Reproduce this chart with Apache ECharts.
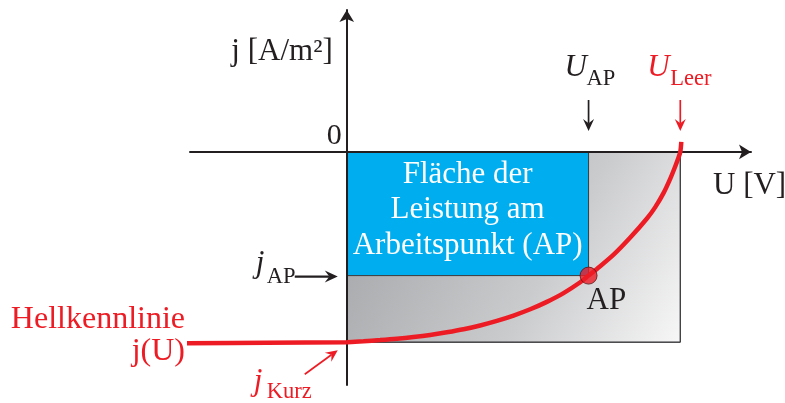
<!DOCTYPE html>
<html>
<head>
<meta charset="utf-8">
<script src="https://cdn.jsdelivr.net/npm/echarts@6/dist/echarts.min.js"></script>
<style>
  html, body { margin: 0; padding: 0; background: #ffffff; }
  #chart { width: 785px; height: 403px; }
</style>
</head>
<body>
<div id="chart"></div>
<script>
// Hellkennlinie einer Solarzelle – schematische Darstellung ohne Skalenwerte

// Kennwerte (willkürliche Einheiten)
const U_LEER = 10;      // Leerlaufspannung
const J_KURZ = -10;     // Kurzschlussstromdichte
const U_AP = 7.25;      // Spannung am Arbeitspunkt
const J_AP = -6.5;      // Stromdichte am Arbeitspunkt

// Hellkennlinie j(U)
const curveU = [-4.8, -2.4, 0, 0.5, 1, 1.5, 2, 2.5, 3, 3.5, 4, 4.5, 5, 5.5, 6, 6.5, 7, 7.25, 7.5, 8, 8.5, 9, 9.25, 9.5, 9.7, 9.85, 9.95, 10, 10.03];
const curveJ = [-10.05, -10.03, -10, -9.95, -9.89, -9.82, -9.73, -9.62, -9.48, -9.32, -9.12, -8.88, -8.6, -8.27, -7.88, -7.42, -6.85, -6.5, -6.15, -5.4, -4.5, -3.5, -2.9, -2.15, -1.4, -0.75, -0.28, 0, 0.53];

// Achsenbereiche
const uRange = [-4.7, 12.12];
const jRange = [-12.25, 7.46];

// Beschriftungen
const yAxisTitle = 'j [A/m²]';
const xAxisTitle = 'U [V]';
const originLabel = '0';
const areaLines = ['Fläche der', 'Leistung am', 'Arbeitspunkt (AP)'];
const curveTitle = ['Hellkennlinie', 'j(U)'];

const INK = '#231f20';
const RED = '#ed1c24';
const BLUE = '#00aeef';
const SERIF = '"Liberation Serif", "Times New Roman", serif';

const chart = echarts.init(document.getElementById('chart'), null, { renderer: 'canvas' });

const axisCommon = {
  type: 'value',
  axisLine: {
    show: true,
    onZero: true,
    symbol: ['none', 'arrow'],
    symbolSize: [11, 12],
    lineStyle: { color: INK, width: 2 }
  },
  axisTick: { show: false },
  axisLabel: { show: false },
  splitLine: { show: false },
  z: 10
};

const curveData = curveU.map((u, i) => [u, curveJ[i]]);

// Rechtecke: [U0, j0, U1, j1]
const rects = [
  [0, 0, U_LEER, J_KURZ],
  [0, 0, U_AP, J_AP]
];

const grayFill = new echarts.graphic.LinearGradient(0, 0, 1, 1, [
  { offset: 0, color: '#a0a1a4' },
  { offset: 0.6, color: '#cacbcd' },
  { offset: 1, color: '#f7f7f7' }
]);

chart.setOption({
  animation: false,
  backgroundColor: '#ffffff',
  grid: { left: 190, right: 34, top: 10, bottom: 18, containLabel: false },
  xAxis: Object.assign({}, axisCommon, { min: uRange[0], max: uRange[1] }),
  yAxis: Object.assign({}, axisCommon, { min: jRange[0], max: jRange[1] }),
  series: [
    {
      type: 'custom',
      z: 1,
      data: rects,
      renderItem: function (params, api) {
        const p1 = api.coord([api.value(0), api.value(1)]);
        const p2 = api.coord([api.value(2), api.value(3)]);
        return {
          type: 'rect',
          shape: {
            x: Math.min(p1[0], p2[0]),
            y: Math.min(p1[1], p2[1]),
            width: Math.abs(p2[0] - p1[0]),
            height: Math.abs(p2[1] - p1[1])
          },
          style: {
            fill: params.dataIndex === 0 ? grayFill : BLUE,
            stroke: '#3b3b3d',
            lineWidth: 1
          }
        };
      }
    },
    {
      type: 'line',
      data: curveData,
      smooth: 0.3,
      symbol: 'none',
      z: 20,
      lineStyle: { color: RED, width: 4.5, cap: 'butt' }
    },
    {
      type: 'scatter',
      data: [[U_AP, J_AP]],
      symbol: 'circle',
      symbolSize: 17,
      z: 21,
      itemStyle: { color: RED, borderColor: '#5c1214', borderWidth: 1 }
    }
  ]
});

const px = (u, j) => chart.convertToPixel({ gridIndex: 0 }, [u, j]);

function txt(x, base, text, size, opt) {
  opt = opt || {};
  return {
    type: 'text',
    x: x,
    y: base - 0.34 * size,
    z: 100,
    style: {
      text: text,
      fontFamily: SERIF,
      fontSize: size,
      fontStyle: opt.italic ? 'italic' : 'normal',
      fill: opt.color || INK,
      align: opt.align || 'left',
      verticalAlign: 'middle'
    }
  };
}

// Pfeil von (x1,y1) nach (x2,y2) mit gefüllter Spitze
function arrow(x1, y1, x2, y2, color, width, len, half) {
  len = len || 12; half = half || 5.5;
  const notch = len * 0.65;
  const ang = Math.atan2(y2 - y1, x2 - x1);
  const c = Math.cos(ang), s = Math.sin(ang);
  const bx = x2 - len * c, by = y2 - len * s;
  const nx = x2 - notch * c, ny = y2 - notch * s;
  return [
    {
      type: 'line', z: 100,
      shape: { x1: x1, y1: y1, x2: nx, y2: ny },
      style: { stroke: color, lineWidth: width }
    },
    {
      type: 'polygon', z: 100,
      shape: { points: [[x2, y2], [bx - half * s, by + half * c], [nx, ny], [bx + half * s, by - half * c]] },
      style: { fill: color }
    }
  ];
}

const o = px(0, 0);
const pAP = px(U_AP, J_AP);
const pLeer = px(U_LEER, 0);
const pKurz = px(0, J_KURZ);
const pBlueTop = px(U_AP / 2, 0);

const S = 31, SUB = 22.5;
const g = [];

g.push(txt(o[0] - 14, 62.7, yAxisTitle, S, { align: 'right' }));
g.push(txt(o[0] - 5, o[1] - 5.5, originLabel, 30, { align: 'right' }));
g.push(txt(713, 196.5, xAxisTitle, S));

// U_AP
g.push(txt(pAP[0] - 24, 78, 'U', S, { italic: true }));
g.push(txt(pAP[0] - 2, 87, 'AP', SUB));
g.push(...arrow(pAP[0], 100, pAP[0], 131, INK, 1.7));

// U_Leer
g.push(txt(pLeer[0] - 33, 78, 'U', S, { italic: true, color: RED }));
g.push(txt(pLeer[0] - 10, 87, 'Leer', SUB, { color: RED }));
g.push(...arrow(pLeer[0], 100, pLeer[0], 131, RED, 1.7));

// j_AP
g.push(txt(o[0] - 91, pAP[1] - 1, 'j', S, { italic: true }));
g.push(txt(o[0] - 80, pAP[1] + 9, 'AP', SUB));
g.push(...arrow(o[0] - 52, pAP[1] + 1, o[0] - 9, pAP[1] + 1, INK, 2.2, 13, 6));

// Hellkennlinie j(U)
g.push(txt(185, 330, curveTitle[0], 32, { align: 'right', color: RED }));
g.push(txt(185, 362, curveTitle[1], 32, { align: 'right', color: RED }));

// j_Kurz
g.push(txt(o[0] - 93, 392, 'j', S, { italic: true, color: RED }));
g.push(txt(o[0] - 80, 400, 'Kurz', SUB, { color: RED }));
g.push(...arrow(o[0] - 42, pKurz[1] + 32, o[0] - 9, pKurz[1] + 8, RED, 1.7));

// Arbeitspunkt
g.push(txt(pAP[0] - 2, 311.7, 'AP', S));

// Text in der Leistungsfläche
areaLines.forEach((line, i) => {
  g.push(txt(pBlueTop[0], 185 + i * 35.8, line, S, { align: 'center', color: '#ffffff' }));
});

chart.setOption({ graphic: g });
</script>
</body>
</html>
